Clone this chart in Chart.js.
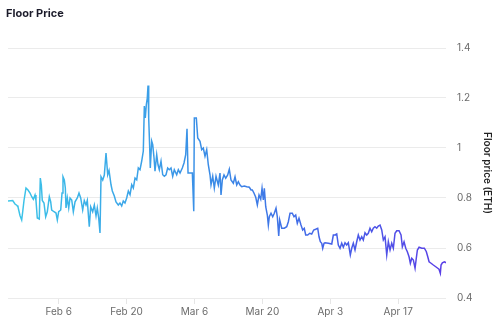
<!DOCTYPE html>
<html>
<head>
<meta charset="utf-8">
<script src="https://cdn.jsdelivr.net/npm/chart.js@4/dist/chart.umd.min.js"></script>
<style>
  html, body { margin: 0; padding: 0; background: #fff; }
  #wrap { position: relative; width: 500px; height: 332px; }
  #title { position: absolute; left: 6px; top: 5px; font: 700 11px "Inter", "Open Sans", sans-serif; color: #1b1b2a; line-height: 16px; }
  canvas { position: absolute; left: 0; top: 0; }
</style>
</head>
<body>
<div id="wrap">
  <canvas id="c" width="500" height="332"></canvas>
  <div id="title">Floor Price</div>
</div>
<script>
// Day of year 2022 (Jan 1 = day 1); fractional days
const days = [
  26.55, 27.52, 27.99, 28.41, 28.61, 29.02, 29.37, 29.58, 29.85, 30.26, 30.67, 31.09, 31.44, 31.77, 32.12, 32.32,
  32.59, 33.0, 33.21, 33.42, 33.62, 33.97, 34.32, 34.65, 35.07, 35.35, 35.56, 36.04, 36.45, 36.72, 37.0, 37.42,
  37.69, 37.89, 38.16, 38.37, 38.51, 38.78, 39.07, 39.34, 39.69, 40.02, 40.37, 40.84, 41.19, 41.54, 41.95, 42.28,
  42.63, 42.9, 43.31, 43.6, 44.01, 44.35, 44.7, 44.96, 45.25, 45.52, 45.73, 46.08, 46.41, 46.76, 47.11, 47.38,
  47.79, 48.06, 48.47, 48.82, 49.29, 49.64, 49.99, 50.32, 50.67, 51.02, 51.36, 51.71, 52.06, 52.39, 52.74, 53.09,
  53.42, 53.77, 54.12, 54.45, 54.66, 54.86, 55.07, 55.27, 55.42, 55.56, 55.77, 55.89, 56.18, 56.39, 56.66, 56.86,
  57.21, 57.48, 57.75, 58.1, 58.45, 58.78, 59.13, 59.47, 59.8, 60.16, 60.51, 60.84, 61.33, 61.67, 62.02, 62.49,
  62.84, 63.19, 63.46, 63.67, 64.14, 64.56, 64.85, 64.97, 65.38, 65.67, 66.14, 66.49, 66.82, 67.17, 67.52, 67.85,
  68.2, 68.41, 68.76, 69.09, 69.44, 69.91, 70.26, 70.47, 70.74, 71.09, 71.44, 71.85, 72.18, 72.53, 73.01, 73.36,
  73.71, 74.04, 74.39, 74.74, 75.28, 75.77, 76.31, 76.66, 76.93, 77.28, 77.63, 77.96, 78.31, 78.66, 78.93, 79.2,
  79.4, 79.69, 80.02, 80.23, 80.43, 80.78, 81.13, 81.46, 81.81, 82.08, 82.37, 82.57, 82.99, 83.52, 84.02, 84.35,
  84.7, 85.17, 85.52, 85.87, 86.2, 86.55, 86.96, 87.31, 87.64, 87.93, 88.34, 88.76, 89.17, 89.58, 89.99, 90.41,
  90.68, 90.95, 91.24, 91.44, 91.71, 91.92, 92.6, 93.3, 93.63, 93.98, 94.33, 94.66, 95.01, 95.36, 95.69, 96.04,
  96.39, 96.72, 97.13, 97.42, 97.75, 98.1, 98.45, 98.78, 99.13, 99.48, 99.81, 100.16, 100.51, 100.84, 101.19, 101.54,
  101.87, 102.22, 102.57, 102.9, 103.26, 103.61, 103.94, 104.29, 104.64, 104.97, 105.32, 105.67, 106.0, 106.35, 106.7, 107.18,
  107.59, 107.86, 108.21, 108.56, 108.89, 109.24, 109.51, 109.8, 110.13, 110.48, 110.69, 110.96, 111.31, 111.87, 112.4, 112.81,
  113.1, 113.37, 113.78, 114.25, 114.75, 115.16, 115.42, 115.69, 115.84, 116.11, 116.52, 116.86
];
const floorPrice = [
  0.788, 0.79, 0.776, 0.77, 0.764, 0.73, 0.712, 0.745, 0.79, 0.84, 0.832, 0.82, 0.805, 0.795, 0.812, 0.79,
  0.72, 0.716, 0.88, 0.852, 0.79, 0.78, 0.725, 0.745, 0.805, 0.785, 0.752, 0.745, 0.74, 0.712, 0.745, 0.752,
  0.82, 0.885, 0.872, 0.84, 0.76, 0.8, 0.76, 0.8, 0.792, 0.745, 0.785, 0.8, 0.82, 0.8, 0.752, 0.79,
  0.772, 0.79, 0.685, 0.765, 0.745, 0.772, 0.728, 0.76, 0.72, 0.66, 0.885, 0.872, 0.892, 0.98, 0.893, 0.91,
  0.853, 0.828, 0.808, 0.784, 0.772, 0.78, 0.768, 0.788, 0.78, 0.8, 0.828, 0.813, 0.853, 0.84, 0.88, 0.873,
  0.92, 0.913, 0.948, 0.988, 1.168, 1.12, 1.173, 1.2, 1.25, 1.12, 1.0, 0.92, 1.027, 1.013, 0.96, 0.907,
  0.973, 0.933, 0.913, 0.947, 0.893, 0.887, 0.893, 0.92, 0.913, 0.92, 0.887, 0.913, 0.893, 0.913, 0.9, 0.92,
  0.94, 0.973, 1.077, 0.9, 0.9, 0.9, 0.747, 1.12, 1.12, 1.04, 1.027, 0.993, 1.0, 0.967, 0.993, 0.933,
  0.893, 0.853, 0.887, 0.84, 0.887, 0.852, 0.9, 0.812, 0.872, 0.892, 0.879, 0.892, 0.915, 0.872, 0.859, 0.885,
  0.852, 0.865, 0.852, 0.845, 0.848, 0.845, 0.843, 0.832, 0.832, 0.819, 0.803, 0.772, 0.812, 0.795, 0.839, 0.792,
  0.839, 0.765, 0.732, 0.692, 0.725, 0.739, 0.725, 0.739, 0.759, 0.725, 0.648, 0.712, 0.679, 0.679, 0.685, 0.705,
  0.739, 0.739, 0.725, 0.732, 0.699, 0.719, 0.692, 0.672, 0.679, 0.652, 0.652, 0.659, 0.656, 0.672, 0.675, 0.679,
  0.645, 0.625, 0.619, 0.599, 0.619, 0.621, 0.619, 0.616, 0.652, 0.652, 0.656, 0.612, 0.599, 0.619, 0.603, 0.621,
  0.612, 0.621, 0.572, 0.599, 0.619, 0.592, 0.625, 0.652, 0.632, 0.645, 0.632, 0.661, 0.652, 0.659, 0.679, 0.665,
  0.679, 0.685, 0.679, 0.688, 0.692, 0.672, 0.632, 0.645, 0.572, 0.625, 0.592, 0.619, 0.599, 0.659, 0.669, 0.669,
  0.652, 0.605, 0.625, 0.599, 0.585, 0.565, 0.539, 0.559, 0.552, 0.519, 0.552, 0.592, 0.603, 0.599, 0.599, 0.585,
  0.565, 0.545, 0.539, 0.532, 0.525, 0.519, 0.515, 0.499, 0.532, 0.541, 0.545, 0.541
];
const tickDays = [37, 51, 65, 79, 93, 107];
const tickLabels = ['Feb 6', 'Feb 20', 'Mar 6', 'Mar 20', 'Apr 3', 'Apr 17'];
const yMin = 0.4, yMax = 1.4, yStep = 0.2;

const points = days.map((d, i) => ({ x: d, y: floorPrice[i] }));

function lineGradient(ctx) {
  const chart = ctx.chart;
  const a = chart.chartArea;
  if (!a) return '#3b82e6';
  const g = chart.ctx.createLinearGradient(a.left, 0, a.right, 0);
  g.addColorStop(0, '#3cc6e8');
  g.addColorStop(0.3, '#3ba2e8');
  g.addColorStop(0.5, '#3a86e6');
  g.addColorStop(0.75, '#4660e8');
  g.addColorStop(1, '#5a3ee6');
  return g;
}

const FONT = '"Inter", "Open Sans", sans-serif';

new Chart(document.getElementById('c'), {
  type: 'line',
  data: {
    datasets: [{
      data: points,
      borderColor: lineGradient,
      borderWidth: 1.5,
      pointRadius: 0,
      tension: 0,
      fill: false
    }]
  },
  options: {
    responsive: false,
    animation: false,
    devicePixelRatio: 1,
    parsing: true,
    layout: { padding: { left: 8, right: 3, top: 48, bottom: 0 } },
    plugins: { legend: { display: false }, tooltip: { enabled: false }, title: { display: false } },
    scales: {
      x: {
        type: 'linear',
        min: days[0],
        max: days[days.length - 1],
        afterBuildTicks: s => { s.ticks = tickDays.map(v => ({ value: v })); },
        afterFit: s => { s.height = 34; },
        border: { display: false },
        grid: { drawOnChartArea: false, drawTicks: true, tickLength: 6, color: '#e6e6e6' },
        ticks: {
          autoSkip: false, maxRotation: 0, padding: 2,
          color: '#6b6b6b', font: { family: FONT, size: 10 },
          callback: v => { const i = tickDays.indexOf(v); return i >= 0 ? tickLabels[i] : ''; }
        }
      },
      y: {
        position: 'right',
        min: yMin, max: yMax,
        afterFit: s => { s.width = 51; },
        border: { display: false },
        grid: { color: '#ebebeb', drawTicks: false },
        ticks: {
          stepSize: yStep, padding: 11,
          color: '#6b6b6b', font: { family: FONT, size: 10 },
          callback: v => String(+v.toFixed(1))
        },
        title: {
          display: true, text: 'Floor price (ETH)',
          color: '#222', font: { family: FONT, size: 10, weight: '600' },
          padding: { top: 4, bottom: 4 }
        }
      }
    }
  }
});
</script>
</body>
</html>
